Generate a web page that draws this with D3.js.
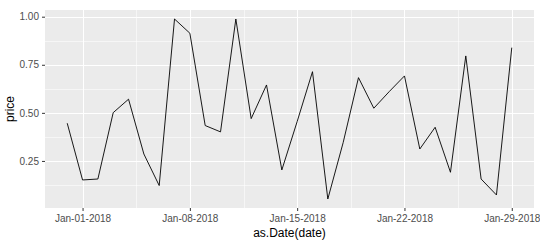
<!DOCTYPE html>
<html>
<head>
<meta charset="utf-8">
<script src="https://cdn.jsdelivr.net/npm/d3@7"></script>
<style>
  body { margin: 0; background: #fff; }
  text { font-family: "Liberation Sans", Arial, sans-serif; }
</style>
</head>
<body>
<div id="chart"></div>
<script>
// Daily dates and values
const dates = [
    "2017-12-31", "2018-01-01", "2018-01-02", "2018-01-03", "2018-01-04", "2018-01-05",
    "2018-01-06", "2018-01-07", "2018-01-08", "2018-01-09", "2018-01-10", "2018-01-11",
    "2018-01-12", "2018-01-13", "2018-01-14", "2018-01-15", "2018-01-16", "2018-01-17",
    "2018-01-18", "2018-01-19", "2018-01-20", "2018-01-21", "2018-01-22", "2018-01-23",
    "2018-01-24", "2018-01-25", "2018-01-26", "2018-01-27", "2018-01-28", "2018-01-29"
];
const prices = [
    0.446, 0.151, 0.156, 0.501, 0.571, 0.286,
    0.122, 0.988, 0.914, 0.434, 0.401, 0.988,
    0.470, 0.645, 0.203, 0.455, 0.714, 0.052,
    0.345, 0.683, 0.524, 0.610, 0.692, 0.312,
    0.425, 0.191, 0.796, 0.156, 0.073, 0.839
];
const xTicks = ["2018-01-01", "2018-01-08", "2018-01-15", "2018-01-22", "2018-01-29"];
const yTicks = [0.25, 0.5, 0.75, 1.0];
const yMinor = [0.125, 0.375, 0.625, 0.875];

const parse = d3.timeParse("%Y-%m-%d");
const data = dates.map((d, i) => ({ date: parse(d), price: prices[i] }));

// Set the dimensions and margins
const margin = { top: 10, right: 6, bottom: 34, left: 45 },
    width = 540 - margin.left - margin.right,
    height = 242 - margin.top - margin.bottom;

const svg = d3.select("#chart")
    .append("svg")
    .attr("width", 540)
    .attr("height", 242);

const g = svg.append("g")
    .attr("transform", `translate(${margin.left},${margin.top})`);

// ggplot style 5% expansion
const xExt = d3.extent(data, d => +d.date);
const xPad = (xExt[1] - xExt[0]) * 0.05;
const x = d3.scaleTime()
    .domain([new Date(xExt[0] - xPad), new Date(xExt[1] + xPad)])
    .range([0, width]);

const yExt = d3.extent(data, d => d.price);
const yPad = (yExt[1] - yExt[0]) * 0.05;
const y = d3.scaleLinear()
    .domain([yExt[0] - yPad, yExt[1] + yPad])
    .range([height, 0]);

const tickDates = xTicks.map(parse);
const minorDates = d3.pairs(tickDates).map(p => new Date((+p[0] + +p[1]) / 2));

// Panel background
g.append("rect")
    .attr("width", width)
    .attr("height", height)
    .attr("fill", "#EBEBEB");

// Minor grid
g.selectAll(".ym").data(yMinor).enter().append("line")
    .attr("x1", 0).attr("x2", width)
    .attr("y1", d => Math.round(y(d)) + 0.5).attr("y2", d => Math.round(y(d)) + 0.5)
    .attr("stroke", "#fff").attr("stroke-width", 0.55);
g.selectAll(".xm").data(minorDates).enter().append("line")
    .attr("y1", 0).attr("y2", height)
    .attr("x1", d => Math.round(x(d)) + 0.5).attr("x2", d => Math.round(x(d)) + 0.5)
    .attr("stroke", "#fff").attr("stroke-width", 0.55);

// Major grid
g.selectAll(".yg").data(yTicks).enter().append("line")
    .attr("x1", 0).attr("x2", width)
    .attr("y1", d => Math.round(y(d)) + 0.5).attr("y2", d => Math.round(y(d)) + 0.5)
    .attr("stroke", "#fff").attr("stroke-width", 1.1);
g.selectAll(".xg").data(tickDates).enter().append("line")
    .attr("y1", 0).attr("y2", height)
    .attr("x1", d => Math.round(x(d)) + 0.5).attr("x2", d => Math.round(x(d)) + 0.5)
    .attr("stroke", "#fff").attr("stroke-width", 1.1);

// The line
const line = d3.line()
    .x(d => x(d.date))
    .y(d => y(d.price));

g.append("path")
    .datum(data)
    .attr("fill", "none")
    .attr("stroke", "#000")
    .attr("stroke-width", 0.9)
    .attr("stroke-linejoin", "round")
    .attr("d", line);

// Axes
const xAxis = g.append("g")
    .attr("transform", `translate(0,${height})`)
    .call(d3.axisBottom(x).tickValues(tickDates).tickFormat(d3.timeFormat("%b-%d-%Y"))
        .tickSize(3).tickPadding(4));

const yAxis = g.append("g")
    .call(d3.axisLeft(y).tickValues(yTicks).tickFormat(d3.format(".2f"))
        .tickSize(3).tickPadding(3));

[xAxis, yAxis].forEach(a => {
    a.select(".domain").remove();
    a.selectAll(".tick line").attr("stroke", "#333333").attr("stroke-width", 1);
    a.selectAll(".tick text")
        .attr("fill", "#4D4D4D")
        .style("font-size", "10px")
        .style("font-family", "'Liberation Sans', Arial, sans-serif");
});

// Axis titles
svg.append("text")
    .attr("x", margin.left + width / 2)
    .attr("y", 237)
    .attr("text-anchor", "middle")
    .attr("fill", "#000")
    .style("font-size", "12px")
    .text("as.Date(date)");

svg.append("text")
    .attr("transform", `translate(14,${margin.top + height / 2}) rotate(-90)`)
    .attr("text-anchor", "middle")
    .attr("fill", "#000")
    .style("font-size", "12px")
    .text("price");
</script>
</body>
</html>
